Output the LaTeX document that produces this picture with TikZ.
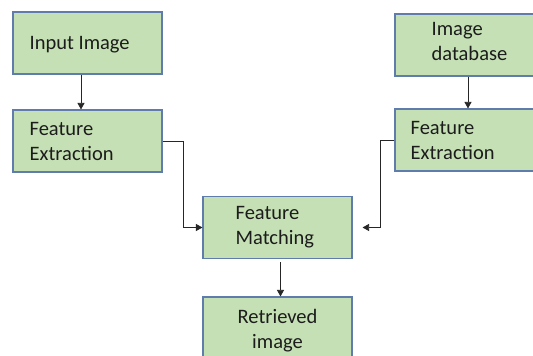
\documentclass[tikz,border=0pt]{standalone}
\usepackage{fontspec}
\setmainfont{Carlito}
\usepackage{tikz}
\usetikzlibrary{arrows.meta,positioning,calc}
\usepackage{xcolor}
\definecolor{boxfill}{HTML}{C5E0B4}
\definecolor{boxline}{RGB}{96,124,172}
\definecolor{txt}{RGB}{28,28,28}

\tikzset{
  box/.style={draw=boxline, fill=boxfill, line width=1.1pt, minimum width=149pt,
    minimum height=62pt, inner sep=0pt},
  lbl/.style={inner sep=0pt, text=txt, align=left,
    font=\fontsize{20.5}{25}\selectfont},
  conn/.style={->, line width=0.8pt, draw=black!85}
}

\begin{document}
\begin{tikzpicture}[x=1pt, y=1pt, >={Triangle[length=6.5pt,width=7pt]}]
  \useasboundingbox (0,0) rectangle (533,356);
  \fill[white] (0,0) rectangle (533,356);
  % boxes
  \node[box] (inimg) at (87.5,313) {};
  \node[box] (fel) at (87.5,215) {};
  \node[box] (db) at (469.5,311) {};
  \node[box] (fer) at (469.5,216) {};
  \node[box] (match) at (277.5,128.5) {};
  \node[box] (ret) at (277.5,28) {};
  % texts
  \node[lbl, anchor=west] (tinimg) at ([xshift=17pt,yshift=-2pt]inimg.west) {Input Image};
  \node[lbl, anchor=west] (tfel) at ([xshift=17pt,yshift=-1pt]fel.west) {Feature\\Extraction};
  \node[lbl, anchor=west] (tdb) at ([xshift=37pt,yshift=3pt]db.west) {Image\\database};
  \node[lbl, anchor=west] (tfer) at ([xshift=16pt,yshift=-1pt]fer.west) {Feature\\Extraction};
  \node[lbl, anchor=west] (tmatch) at ([xshift=33pt]match.west) {Feature\\Matching};
  \node[lbl, align=center] (tret) at ([yshift=-3pt]ret.center) {Retrieved\\image};
  % connectors
  \draw[conn] ([xshift=-6.5pt]inimg.south) -- ([xshift=-6.5pt]fel.north);
  \draw[conn] ([xshift=-1.5pt]db.south) -- ([xshift=-1.5pt]fer.north);
  \draw[conn] (fel.east) -- ++(21,0) |- (match.west);
  \draw[conn] (fer.west) -- ++(-14,0) |- ([xshift=10pt]match.east);
  \draw[conn] ([xshift=3pt,yshift=-3pt]match.south) -- ([xshift=3pt]ret.north);
\end{tikzpicture}
\end{document}
